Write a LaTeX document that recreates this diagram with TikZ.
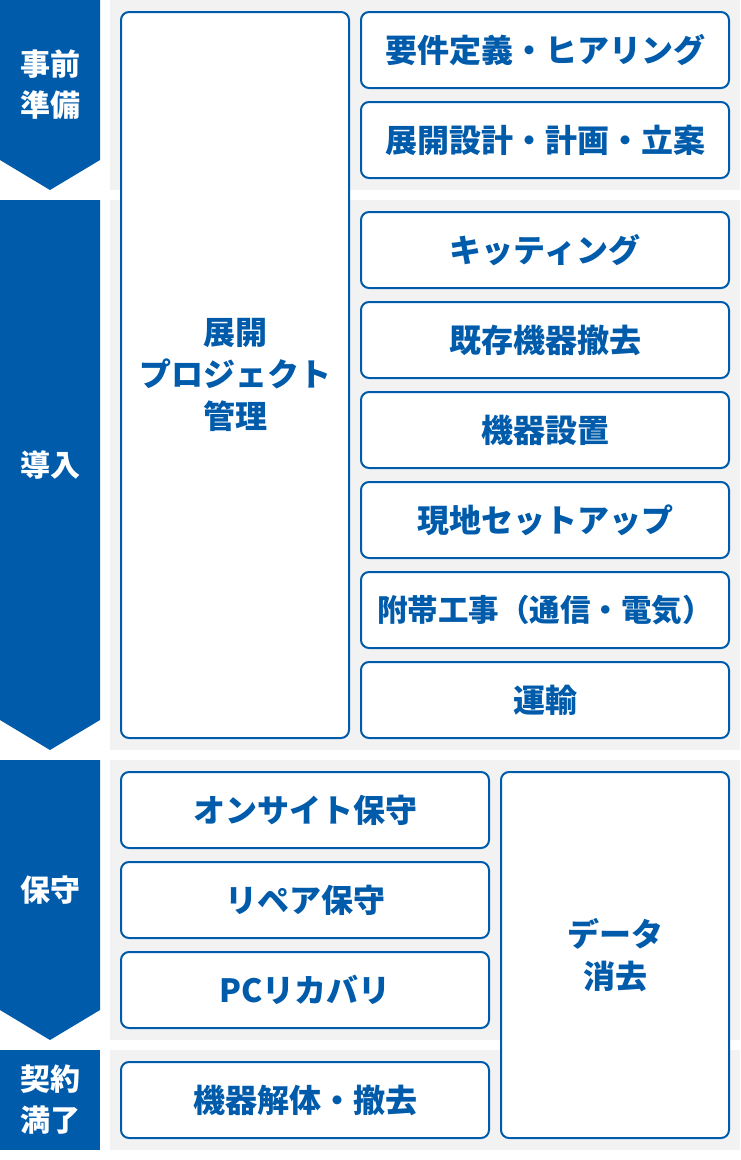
\documentclass[tikz,border=0pt]{standalone}
\usepackage{fontspec}
\setmainfont{Noto Sans CJK JP}
\usetikzlibrary{positioning}
\definecolor{bandblue}{HTML}{005BAB}
\definecolor{bandgray}{HTML}{F2F2F2}

\begin{document}
\begin{tikzpicture}[x=1pt,y=-1pt,node distance=12pt,
    task/.style={draw=bandblue,line width=2pt,rounded corners=8pt,fill=white,text=bandblue,
        minimum width=368pt,minimum height=76pt,align=center,font=\bfseries\fontsize{32}{42}\selectfont},
    tall task/.style={task,minimum width=228pt},
    band text/.style={text=white,align=center,font=\bfseries\fontsize{30}{41}\selectfont}]

\useasboundingbox (0,0) rectangle (740,1160);

% gray backgrounds
\fill[bandgray] (110,0) rectangle (740,190);
\fill[bandgray] (110,200) rectangle (740,750);
\fill[bandgray] (110,760) rectangle (740,1040);
\fill[bandgray] (110,1050) rectangle (740,1150);

% phase arrows
\fill[bandblue] (0,0) -- (100,0) -- (100,160) -- (50,190) -- (0,160) -- cycle;
\fill[bandblue] (0,200) -- (100,200) -- (100,720) -- (50,750) -- (0,720) -- cycle;
\fill[bandblue] (0,760) -- (100,760) -- (100,1010) -- (50,1040) -- (0,1010) -- cycle;
\fill[bandblue] (0,1050) rectangle (100,1150);

\node[band text] (prep)   at (50,85)   {事前\\準備};
\node[band text] (intro)  at (50,465)  {導入};
\node[band text] (maint)  at (50,890)  {保守};
\node[band text] (expiry) at (50,1100) {契約\\満了};

% tasks
\node[tall task,minimum height=726pt] (pm) at (235,375) {展開\\プロジェクト\\管理};

\node[task]   (req)     at (545,50)          {要件定義・ヒアリング};
\node[task]   (design)  [below=of req]       {展開設計・計画・立案};
\node[task]   (kit)     [below=32pt of design] {キッティング};
\node[task]   (removal) [below=of kit]       {既存機器撤去};
\node[task]   (install) [below=of removal]   {機器設置};
\node[task]   (setup)   [below=of install]   {現地セットアップ};
\node[task,font=\bfseries\fontsize{30.5}{42}\selectfont]
              (works)   [below=of setup]     {附帯工事（通信・電気）};
\node[task]   (trans)   [below=of works]     {運輸};

\node[task]   (onsite)  at (305,810)         {オンサイト保守};
\node[task]   (repair)  [below=of onsite]    {リペア保守};
\node[task]   (recov)   [below=of repair]    {PCリカバリ};
\node[task]   (disman)  [below=32pt of recov] {機器解体・撤去};

\node[tall task,minimum height=366pt] (erase) at (615,955) {データ\\消去};
\end{tikzpicture}
\end{document}
